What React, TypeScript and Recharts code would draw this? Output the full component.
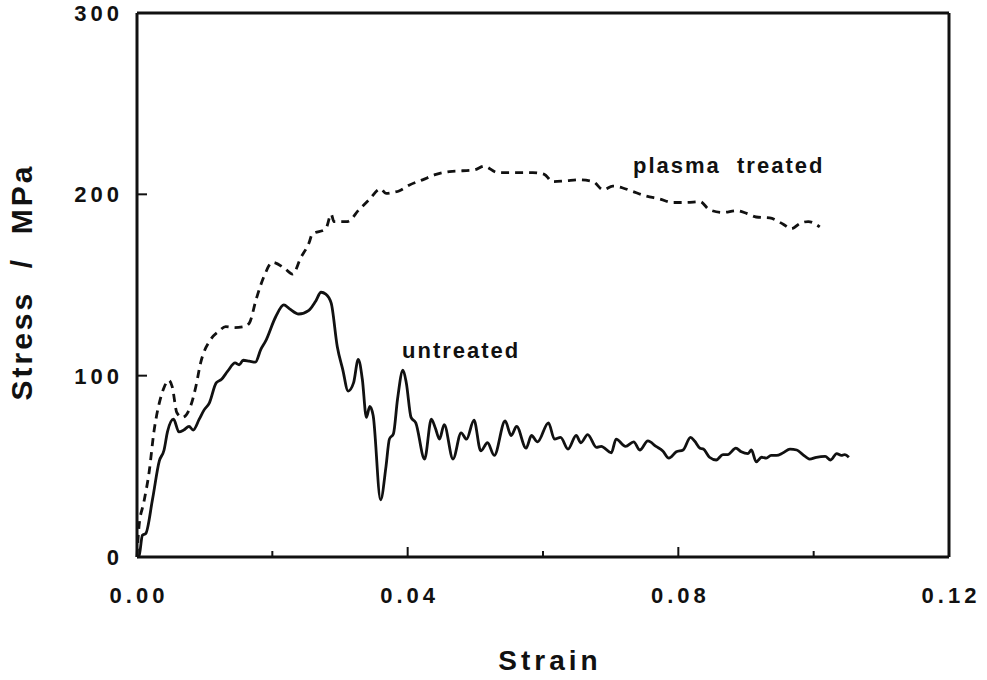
import React from 'react';
import { LineChart, Line, XAxis, YAxis } from 'recharts';

// strain (-) vs stress (MPa)
const untreatedStrain = [
  0, 0.0003, 0.0008, 0.0013, 0.0023, 0.0033, 0.004, 0.0045, 0.0054, 0.0062, 0.0069, 0.0077, 0.0083,
  0.0092, 0.0099, 0.0107, 0.0117, 0.0125, 0.0134, 0.0145, 0.0151, 0.0157, 0.0166, 0.0175, 0.0183,
  0.019, 0.0205, 0.0217, 0.0225, 0.0239, 0.0254, 0.0264, 0.0272, 0.0279, 0.0287, 0.0296, 0.0304,
  0.0312, 0.032, 0.0327, 0.0333, 0.0339, 0.0344, 0.0349, 0.036, 0.0368, 0.0373, 0.0379, 0.0385,
  0.0393, 0.0398, 0.0405, 0.0412, 0.0425, 0.0435, 0.0441, 0.0447, 0.0454, 0.0467, 0.0479, 0.0487,
  0.0498, 0.0508, 0.0518, 0.0528, 0.0544, 0.0553, 0.0561, 0.0575, 0.0583, 0.0592, 0.0608, 0.0617,
  0.0626, 0.0637, 0.0649, 0.0656, 0.0666, 0.0679, 0.0686, 0.0701, 0.0708, 0.0722, 0.0734, 0.0743,
  0.0755, 0.0767, 0.0777, 0.0786, 0.0797, 0.0807, 0.0818, 0.0824, 0.0832, 0.0837, 0.0846, 0.0856,
  0.0866, 0.0873, 0.0885, 0.0893, 0.0903, 0.0908, 0.0915, 0.0923, 0.093, 0.0937, 0.0945, 0.0955,
  0.0965, 0.0975, 0.0984, 0.0994, 0.1004, 0.1017, 0.1025, 0.1034, 0.1041, 0.1046, 0.1052,
];
const untreatedStress = [
  0, 0.5, 12, 13, 32, 53, 59, 69, 76, 69, 70, 72, 70,
  76, 81, 85, 96, 98, 102.5, 107, 106, 108.5, 108, 107.5, 114.5,
  119, 132.5, 139, 137, 134, 136, 141, 146, 145, 140, 116, 103.5,
  91.5, 96, 109, 98, 77, 83, 78, 31.5, 50, 65, 68, 87,
  103, 96, 77, 74, 54, 76, 71, 65, 73, 54, 68.5, 65,
  75.5, 58.5, 63, 56, 75, 67, 72, 60, 67, 63.5, 74, 65,
  66, 59.5, 67, 63, 67.5, 60.5, 61, 57.5, 65, 61, 63.5, 59,
  64, 61, 58.5, 54.5, 58, 59, 66, 64, 60, 59.5, 55, 53.5,
  56.5, 56.5, 60, 58, 57, 59, 52.5, 55, 54.5, 56, 56, 57.5,
  59.5, 59, 56.5, 54, 55, 55.5, 53.5, 57, 56, 56.5, 55,
];

const plasmaStrain = [
  0, 0.0003, 0.001, 0.0018, 0.0025, 0.0033, 0.004, 0.0047, 0.0052, 0.0059, 0.0067, 0.0079, 0.0087,
  0.0094, 0.0109, 0.0121, 0.0131, 0.0144, 0.0158, 0.0166, 0.0176, 0.0188, 0.02, 0.0217, 0.023,
  0.0242, 0.0254, 0.0259, 0.0279, 0.0287, 0.0291, 0.0311, 0.0328, 0.0343, 0.036, 0.0368, 0.0378,
  0.0388, 0.0402, 0.0422, 0.0442, 0.0462, 0.0481, 0.0499, 0.0513, 0.0533, 0.055, 0.057, 0.0585,
  0.0602, 0.0614, 0.0634, 0.0654, 0.0674, 0.0689, 0.0703, 0.0718, 0.0733, 0.0753, 0.0772, 0.0792,
  0.0812, 0.0832, 0.0846, 0.0866, 0.0886, 0.0901, 0.0915, 0.0935, 0.0955, 0.0967, 0.098, 0.0992,
  0.1009,
];
const plasmaStress = [
  0, 17, 30, 47, 69, 85, 93.5, 97.5, 94, 79.5, 77, 83, 94,
  107, 120, 124.5, 127, 126.5, 127, 129, 142, 155, 162.5, 159.5, 156,
  165, 173, 178, 181, 189, 185, 185, 191.5, 197, 203, 200.5, 201,
  202, 205, 208, 211, 212.5, 213, 213.5, 215.5, 212, 212, 212, 212,
  211, 207, 207.5, 208, 207, 202.5, 204.5, 203.5, 201.5, 199, 197.5, 195.5,
  195.5, 196, 191.5, 190, 191, 189.5, 187.5, 187, 183.5, 181, 184, 185,
  182,
];

const xTicks = [0, 0.02, 0.04, 0.06, 0.08, 0.1, 0.12];
const xLabels = ['0.00', '', '0.04', '', '0.08', '', '0.12'];
const yTicks = [0, 100, 200, 300];
const yLabels = ['0', '100', '200', '300'];

const untreated = untreatedStrain.map((s, i) => ({ strain: s, stress: untreatedStress[i] }));
const plasma = plasmaStrain.map((s, i) => ({ strain: s, stress: plasmaStress[i] }));

const FONT = '"Liberation Sans", Arial, sans-serif';
const INK = '#111';

const isMajorX = (v: number) => Math.abs(v / 0.04 - Math.round(v / 0.04)) < 1e-6;

const BottomTick = (props: any) => {
  const { x, y, payload } = props;
  const major = isMajorX(payload.value);
  const label = xLabels[xTicks.findIndex((t) => Math.abs(t - payload.value) < 1e-9)] ?? '';
  return (
    <g>
      <line x1={x} x2={x} y1={y} y2={y - (major ? 10 : 6)} stroke={INK} strokeWidth={2} />
      {label && (
        <text x={x + 2} y={y + 46} textAnchor="middle" fontFamily={FONT} fontWeight="bold" fontSize={22} letterSpacing={4} fill={INK}>
          {label}
        </text>
      )}
    </g>
  );
};

const TopTick = (props: any) => {
  const { x, y, payload } = props;
  const major = isMajorX(payload.value);
  return <line x1={x} x2={x} y1={y} y2={y + (major ? 10 : 6)} stroke={INK} strokeWidth={2} />;
};

const LeftTick = (props: any) => {
  const { x, y, payload } = props;
  const label = yLabels[yTicks.indexOf(payload.value)] ?? '';
  return (
    <g>
      <line x1={x} x2={x + 10} y1={y} y2={y} stroke={INK} strokeWidth={2} />
      <text x={x - 14} y={y + 8} textAnchor="end" fontFamily={FONT} fontWeight="bold" fontSize={22} letterSpacing={4} fill={INK}>
        {label}
      </text>
    </g>
  );
};

const RightTick = (props: any) => {
  const { x, y } = props;
  return <line x1={x} x2={x - 10} y1={y} y2={y} stroke={INK} strokeWidth={2} />;
};

const axisLine = { stroke: INK, strokeWidth: 3 };

export default function App() {
  return (
    <div style={{ position: 'fixed', left: 0, top: 0, width: 987, height: 680, background: '#fff' }}>
      <LineChart width={987} height={680} margin={{ top: 12, right: 37, bottom: 122, left: 136 }}>
        <XAxis
          xAxisId="bottom"
          dataKey="strain"
          type="number"
          domain={[0, 0.12]}
          ticks={xTicks}
          interval={0}
          height={1}
          tickSize={0}
          tickMargin={0}
          tickLine={false}
          axisLine={axisLine}
          tick={<BottomTick />}
        />
        <XAxis
          xAxisId="top"
          orientation="top"
          dataKey="strain"
          type="number"
          domain={[0, 0.12]}
          ticks={xTicks}
          interval={0}
          height={1}
          tickSize={0}
          tickMargin={0}
          tickLine={false}
          axisLine={axisLine}
          tick={<TopTick />}
        />
        <YAxis
          yAxisId="left"
          type="number"
          domain={[0, 300]}
          ticks={yTicks}
          interval={0}
          width={1}
          tickSize={0}
          tickMargin={0}
          tickLine={false}
          axisLine={axisLine}
          tick={<LeftTick />}
        />
        <YAxis
          yAxisId="right"
          orientation="right"
          type="number"
          domain={[0, 300]}
          ticks={yTicks}
          interval={0}
          width={1}
          tickSize={0}
          tickMargin={0}
          tickLine={false}
          axisLine={axisLine}
          tick={<RightTick />}
        />
        <Line
          xAxisId="bottom"
          yAxisId="left"
          data={plasma}
          dataKey="stress"
          type="monotone"
          stroke={INK}
          strokeWidth={2.8}
          strokeDasharray="8 6"
          dot={false}
          isAnimationActive={false}
        />
        <Line
          xAxisId="bottom"
          yAxisId="left"
          data={untreated}
          dataKey="stress"
          type="monotone"
          stroke={INK}
          strokeWidth={2.8}
          dot={false}
          isAnimationActive={false}
        />
      </LineChart>
      <svg width={987} height={680} style={{ position: 'absolute', left: 0, top: 0, pointerEvents: 'none' }}>
        <g fontFamily={FONT} fontWeight="bold" fill={INK}>
          <text x={633} y={173} fontSize={22} letterSpacing={2} style={{ whiteSpace: 'pre' }}>
            {'plasma  treated'}
          </text>
          <text x={402} y={358} fontSize={22} letterSpacing={2}>
            untreated
          </text>
          <text x={550} y={670} fontSize={28} letterSpacing={4} textAnchor="middle">
            Strain
          </text>
          <text
            x={0}
            y={0}
            fontSize={30}
            letterSpacing={3}
            textAnchor="middle"
            transform="translate(32 282) rotate(-90)"
            style={{ whiteSpace: 'pre' }}
          >
            {'Stress  /  MPa'}
          </text>
        </g>
      </svg>
    </div>
  );
}
